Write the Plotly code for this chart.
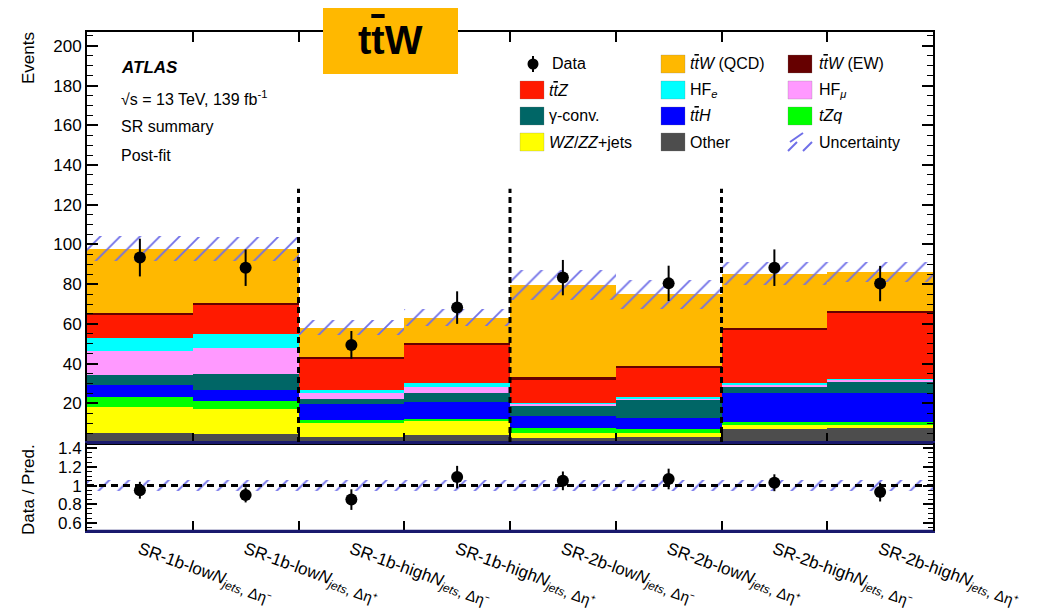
import plotly.graph_objects as go

# ---------------- data ----------------
regions = ["SR-1b-lowN-dm", "SR-1b-lowN-dp", "SR-1b-highN-dp", "SR-1b-highN-dm",
           "SR-2b-lowN-dp", "SR-2b-lowN-dm", "SR-2b-highN-dp", "SR-2b-highN-dm"]
SUBSPAN = "<span style='font-size:15px'>, Δη%s</span>"
tick_labels = [
    "SR-1b-low<i>N</i><sub><i>jets</i>" + SUBSPAN % "⁻" + "</sub>",
    "SR-1b-low<i>N</i><sub><i>jets</i>" + SUBSPAN % "⁺" + "</sub>",
    "SR-1b-high<i>N</i><sub><i>jets</i>" + SUBSPAN % "⁻" + "</sub>",
    "SR-1b-high<i>N</i><sub><i>jets</i>" + SUBSPAN % "⁺" + "</sub>",
    "SR-2b-low<i>N</i><sub><i>jets</i>" + SUBSPAN % "⁻" + "</sub>",
    "SR-2b-low<i>N</i><sub><i>jets</i>" + SUBSPAN % "⁺" + "</sub>",
    "SR-2b-high<i>N</i><sub><i>jets</i>" + SUBSPAN % "⁻" + "</sub>",
    "SR-2b-high<i>N</i><sub><i>jets</i>" + SUBSPAN % "⁺" + "</sub>",
]
other   = [5.2, 4.4, 3.2, 4.0, 2.7, 3.0, 7.2, 7.4]
wz_zz   = [13.1, 12.6, 6.7, 7.1, 2.5, 1.9, 1.7, 1.5]
tzq     = [5.0, 4.2, 1.5, 1.2, 2.5, 2.3, 1.8, 1.8]
tth     = [5.7, 5.3, 8.4, 8.5, 5.9, 5.6, 14.7, 14.7]
gconv   = [5.1, 8.1, 2.2, 4.4, 5.3, 8.9, 3.0, 5.7]
hf_mu   = [12.2, 13.4, 3.2, 3.2, 0.9, 0.9, 1.0, 0.8]
hf_e    = [6.4, 6.8, 1.5, 2.0, 0.5, 0.8, 0.8, 0.5]
ttz     = [12.0, 15.0, 16.0, 19.3, 11.7, 14.4, 26.7, 32.9]
ttw_ew  = [0.9, 0.9, 0.8, 0.8, 1.0, 1.0, 1.2, 1.2]
ttw_qcd = [32.3, 27.2, 14.6, 12.6, 46.5, 36.1, 27.2, 19.8]
total_unc = [6.2, 6.0, 3.7, 4.2, 7.7, 7.2, 5.9, 5.0]

data_vals = [93.4, 88.3, 49.4, 68.2, 83.3, 80.4, 88.3, 80.3]
data_err  = [9.5, 9.2, 7.0, 8.2, 8.9, 8.9, 9.2, 8.9]

ratio_vals = [0.95, 0.90, 0.85, 1.09, 1.05, 1.07, 1.03, 0.93]
ratio_err  = [0.09, 0.08, 0.11, 0.12, 0.10, 0.11, 0.09, 0.10]
ratio_unc  = [0.06, 0.06, 0.06, 0.06, 0.06, 0.06, 0.06, 0.06]

stack = [
    ("Other", other, "#4D4D4D"),
    ("WZ/ZZ+jets", wz_zz, "#FFFF00"),
    ("tZq", tzq, "#00FF00"),
    ("ttH", tth, "#0000FF"),
    ("gamma-conv.", gconv, "#006666"),
    ("HF_mu", hf_mu, "#FF99FF"),
    ("HF_e", hf_e, "#00FFFF"),
    ("ttZ", ttz, "#FF1A00"),
    ("ttW (EW)", ttw_ew, "#660000"),
    ("ttW (QCD)", ttw_qcd, "#FFB800"),
]

FONT = "Liberation Sans, Arial, Helvetica, sans-serif"
HATCH = "#6f6fe8"
TTBAR = "t<span style='text-decoration:overline'>t</span>"

# ---------------- geometry helpers (screen pixels -> paper) ----------------
OFF = 8                      # page body margin of the browser
W, H = 1037 - OFF, 611 - OFF
ML, MR, MT, MB = 79, 104, 24, 80
PW, PH = W - ML - MR, H - MT - MB
def PX(px):
    return (px - OFF - ML) / PW
def PY(py):
    return (H - MB - (py - OFF)) / PH

split = PY(443)

x = list(range(len(regions)))
fig = go.Figure()

totals = [0.0] * len(x)
for name, vals, col in stack:
    fig.add_trace(go.Bar(x=x, y=vals, name=name, marker=dict(color=col, line=dict(width=0)),
                         width=1.0, xaxis="x", yaxis="y", showlegend=False))
    totals = [t + v for t, v in zip(totals, vals)]

hatch_marker = dict(color="rgba(0,0,0,0)", line=dict(width=0),
                    pattern=dict(shape="/", fgcolor=HATCH, bgcolor="rgba(0,0,0,0)",
                                 fgopacity=1, size=14, solidity=0.13, fillmode="overlay"))

# uncertainty band (main)
fig.add_trace(go.Bar(
    x=x, y=[2 * u for u in total_unc], base=[t - u for t, u in zip(totals, total_unc)],
    width=1.0, xaxis="x", yaxis="y", showlegend=False, name="Uncertainty",
    marker=hatch_marker))

fig.add_trace(go.Scatter(
    x=x, y=data_vals, mode="markers", xaxis="x", yaxis="y", showlegend=False, name="Data",
    marker=dict(color="black", size=12),
    error_y=dict(type="data", array=data_err, color="black", thickness=2, width=0)))

# ratio panel
fig.add_trace(go.Bar(
    x=x, y=[2 * u for u in ratio_unc], base=[1 - u for u in ratio_unc],
    width=1.0, xaxis="x2", yaxis="y2", showlegend=False, marker=hatch_marker))
fig.add_trace(go.Scatter(
    x=x, y=ratio_vals, mode="markers", xaxis="x2", yaxis="y2", showlegend=False,
    marker=dict(color="black", size=12),
    error_y=dict(type="data", array=ratio_err, color="black", thickness=2, width=0)))

shapes = []
# dashed separators
for b in [1.5, 3.5, 5.5]:
    shapes.append(dict(type="line", xref="x", yref="y", x0=b, x1=b, y0=0, y1=128,
                       line=dict(color="black", width=3, dash="6px,4px"), layer="above"))
# ratio reference line
shapes.append(dict(type="line", xref="x2", yref="y2", x0=-0.5, x1=7.5, y0=1, y1=1,
                   line=dict(color="black", width=3, dash="7px,5px"), layer="above"))
# navy bottom lines
shapes.append(dict(type="line", xref="paper", yref="paper", x0=0, x1=1, y0=split, y1=split,
                   line=dict(color="#1a1a6e", width=2), layer="above"))
shapes.append(dict(type="line", xref="paper", yref="paper", x0=0, x1=1, y0=0, y1=0,
                   line=dict(color="#1a1a6e", width=2.5), layer="above"))

# title box
shapes.append(dict(type="rect", xref="paper", yref="paper", x0=PX(323), x1=PX(458),
                   y0=PY(74), y1=PY(2), fillcolor="#FFB800", line=dict(width=0), layer="above"))

annotations = []
annotations.append(dict(xref="paper", yref="paper", x=PX(390), y=PY(40),
                        text="<b>" + TTBAR + "W</b>",
                        showarrow=False, font=dict(size=40, color="black", family=FONT),
                        xanchor="center", yanchor="middle"))

# labels
for txt, py, sz in [("<b><i>ATLAS</i></b>", 68, 17),
                    ("√s = 13 TeV, 139 fb<sup>-1</sup>", 98, 16),
                    ("SR summary", 127, 16),
                    ("Post-fit", 155, 16)]:
    annotations.append(dict(xref="paper", yref="paper", x=PX(119), y=PY(py), text=txt,
                            showarrow=False, xanchor="left", yanchor="middle",
                            font=dict(size=sz, color="black", family=FONT)))

annotations.append(dict(xref="paper", yref="paper", x=PX(28), y=PY(58), text="Events",
                        textangle=-90, showarrow=False, xanchor="center", yanchor="middle",
                        font=dict(size=17, color="black", family=FONT)))
annotations.append(dict(xref="paper", yref="paper", x=PX(28), y=PY(490), text="Data / Pred.",
                        textangle=-90, showarrow=False, xanchor="center", yanchor="middle",
                        font=dict(size=17, color="black", family=FONT)))

# manual legend (3 columns x 4 rows)
legend_items = [
    [("Data", "data"), ("<i>" + TTBAR + "W</i> (QCD)", "#FFB800"), ("<i>" + TTBAR + "W</i> (EW)", "#660000")],
    [("<i>" + TTBAR + "Z</i>", "#FF1A00"), ("HF<sub><i>e</i></sub>", "#00FFFF"), ("HF<sub><i>μ</i></sub>", "#FF99FF")],
    [("γ-conv.", "#006666"), ("<i>" + TTBAR + "H</i>", "#0000FF"), ("<i>tZq</i>", "#00FF00")],
    [("<i>WZ</i>/<i>ZZ</i>+jets", "#FFFF00"), ("Other", "#4D4D4D"), ("Uncertainty", "hatch")],
]
row_y = [64, 90, 116, 142]
col_box = [520, 661, 788]
col_txt = [547, 688, 817]
for r, row in enumerate(legend_items):
    for c, (label, col) in enumerate(row):
        yc = row_y[r]
        x0 = col_box[c]
        if col == "data":
            shapes.append(dict(type="line", xref="paper", yref="paper", x0=PX(533), x1=PX(533),
                               y0=PY(72), y1=PY(56), line=dict(color="black", width=2), layer="above"))
            shapes.append(dict(type="circle", xref="paper", yref="paper", x0=PX(527.5), x1=PX(538.5),
                               y0=PY(69.5), y1=PY(58.5), fillcolor="black", line=dict(width=0), layer="above"))
            tx = 550
        elif col == "hatch":
            for (a, b, cc, d) in [(788, 151, 797, 142), (790, 142, 803, 133), (803, 151, 812, 142)]:
                shapes.append(dict(type="line", xref="paper", yref="paper", x0=PX(a), x1=PX(cc),
                                   y0=PY(b), y1=PY(d), line=dict(color=HATCH, width=2), layer="above"))
            tx = col_txt[c]
        else:
            shapes.append(dict(type="rect", xref="paper", yref="paper", x0=PX(x0), x1=PX(x0 + 24),
                               y0=PY(yc + 9), y1=PY(yc - 9), fillcolor=col,
                               line=dict(color="rgba(120,120,120,0.5)", width=0.5), layer="above"))
            tx = col_txt[c]
        annotations.append(dict(xref="paper", yref="paper", x=PX(tx), y=PY(yc), text=label,
                                showarrow=False, xanchor="left", yanchor="middle",
                                font=dict(size=16, color="black", family=FONT)))

bounds = [i + 0.5 for i in range(len(x) - 1)]

fig.update_layout(
    width=W, height=H, margin=dict(l=ML, r=MR, t=MT, b=MB, pad=0, autoexpand=False),
    paper_bgcolor="white", plot_bgcolor="white",
    barmode="stack", bargap=0, showlegend=False,
    font=dict(family=FONT, size=17, color="black"),
    shapes=shapes, annotations=annotations,
    xaxis=dict(domain=[0, 1], anchor="y", range=[-0.5, 7.5], showticklabels=False,
               tickvals=bounds, ticks="inside", ticklen=10, tickwidth=1.5, tickcolor="black",
               showline=True, linecolor="black", linewidth=2, mirror="ticks",
               showgrid=False, zeroline=False),
    yaxis=dict(domain=[split, 1], anchor="x", range=[0, 207],
               tickvals=[20, 40, 60, 80, 100, 120, 140, 160, 180, 200],
               ticks="inside", ticklen=11, tickwidth=1.5, tickcolor="black",
               minor=dict(dtick=5, tick0=0, ticks="inside", ticklen=6, tickwidth=1.2, tickcolor="black"),
               showline=True, linecolor="black", linewidth=2, mirror="ticks",
               showgrid=False, zeroline=False, tickfont=dict(size=17)),
    xaxis2=dict(domain=[0, 1], anchor="y2", range=[-0.5, 7.5],
                tickvals=x, ticktext=tick_labels, tickangle=20, ticks="",
                tickfont=dict(size=17), automargin=False,
                minor=dict(tickvals=bounds, ticks="inside", ticklen=10, tickwidth=1.5, tickcolor="black"),
                showline=True, linecolor="#1a1a6e", linewidth=2, mirror=True,
                showgrid=False, zeroline=False),
    yaxis2=dict(domain=[0, split], anchor="x2", range=[0.515, 1.454],
                tickvals=[0.6, 0.8, 1.0, 1.2, 1.4], ticktext=["0.6", "0.8", "1", "1.2", "1.4"],
                ticks="inside", ticklen=10, tickwidth=1.5, tickcolor="black",
                minor=dict(dtick=0.05, tick0=0, ticks="inside", ticklen=5, tickwidth=1.2, tickcolor="black"),
                showline=True, linecolor="black", linewidth=2, mirror="ticks",
                showgrid=False, zeroline=False, tickfont=dict(size=17)),
)

fig.write_html("out.html")
